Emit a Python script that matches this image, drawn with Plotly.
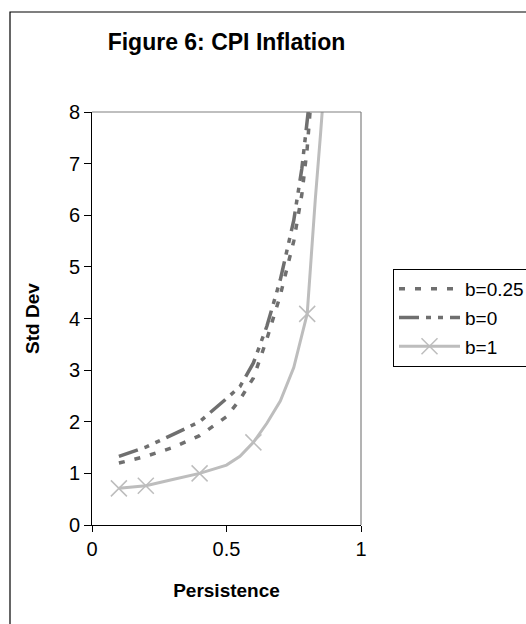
import plotly.graph_objects as go

# ---- data ----
persistence_b025 = [0.1, 0.2, 0.3, 0.4, 0.5, 0.55, 0.6, 0.65, 0.7, 0.75, 0.78, 0.8, 0.815]
std_b025 = [1.2, 1.33, 1.5, 1.73, 2.1, 2.43, 2.85, 3.6, 4.45, 5.5, 6.4, 7.3, 8.3]

persistence_b0 = [0.1, 0.2, 0.3, 0.4, 0.5, 0.55, 0.6, 0.65, 0.7, 0.75, 0.78, 0.8, 0.81]
std_b0 = [1.33, 1.51, 1.75, 2.0, 2.45, 2.68, 3.14, 3.85, 4.75, 5.9, 6.9, 7.8, 8.3]

persistence_b1 = [0.1, 0.2, 0.3, 0.4, 0.5, 0.55, 0.6, 0.65, 0.7, 0.75, 0.8, 0.81, 0.83, 0.85, 0.86]
std_b1 = [0.71, 0.76, 0.88, 1.0, 1.16, 1.33, 1.6, 1.97, 2.4, 3.05, 4.09, 4.9, 6.3, 7.6, 8.3]
b1_marked = [0.1, 0.2, 0.4, 0.6, 0.8]

series_names = ["b=0.25", "b=0", "b=1"]
x_ticks = [0, 0.5, 1]
x_tick_labels = ["0", "0.5", "1"]
y_ticks = [0, 1, 2, 3, 4, 5, 6, 7, 8]

FONT = "Liberation Sans, Arial, sans-serif"
DARK = "#6f6f6f"
LIGHT = "#bdbdbd"

fig = go.Figure()

fig.add_trace(go.Scatter(
    x=persistence_b025, y=std_b025, mode="lines", name=series_names[0],
    legendgroup="g1",
    line=dict(color=DARK, width=3.5, dash="6px,10px"),
))
fig.add_trace(go.Scatter(
    x=persistence_b0, y=std_b0, mode="lines", name=series_names[1],
    legendgroup="g2",
    line=dict(color=DARK, width=3.5, dash="20px,7px,5px,7px,5px,7px"),
))
fig.add_trace(go.Scatter(
    x=persistence_b1, y=std_b1, mode="lines", name=series_names[2],
    legendgroup="g3", showlegend=False,
    line=dict(color=LIGHT, width=3),
))
mx = [x for x in persistence_b1 if x in b1_marked]
my = [y for x, y in zip(persistence_b1, std_b1) if x in b1_marked]
fig.add_trace(go.Scatter(
    x=mx, y=my, mode="markers", name=series_names[2],
    legendgroup="g3", showlegend=False,
    marker=dict(symbol="x-thin", size=16, color=LIGHT,
                line=dict(color=LIGHT, width=1.5)),
))
fig.add_trace(go.Scatter(
    x=[None], y=[None], mode="lines+markers", name=series_names[2],
    legendgroup="g3",
    line=dict(color=LIGHT, width=3),
    marker=dict(symbol="x-thin", size=16, color=LIGHT,
                line=dict(color=LIGHT, width=1.5)),
))

# outer frame and plot-area border (top/right grey)
fig.add_shape(type="rect", xref="paper", yref="paper",
              x0=(10 - 92) / 269, x1=(540 - 92) / 269,
              y0=(525 - 640) / 413, y1=(525 - 12) / 413,
              line=dict(color="black", width=1.2), layer="below")
fig.add_shape(type="line", xref="paper", yref="paper", x0=0, x1=1, y0=1, y1=1,
              line=dict(color="#808080", width=1.2))
fig.add_shape(type="line", xref="paper", yref="paper", x0=1, x1=1, y0=0, y1=1,
              line=dict(color="#808080", width=1.2))

fig.update_layout(
    width=526, height=624,
    margin=dict(l=92, r=165, t=112, b=99, autoexpand=False),
    paper_bgcolor="white", plot_bgcolor="white",
    font=dict(family=FONT, size=19, color="black"),
    title=dict(text="Figure 6: CPI Inflation", x=(92 + 361) / 2 / 526, xanchor="center",
               y=1 - 42 / 624, yanchor="middle",
               font=dict(family=FONT, size=23, weight="bold", color="black")),
    showlegend=True,
    legend=dict(x=(393 - 92) / 269, y=(525 - 269) / 413, xanchor="left", yanchor="top",
                bordercolor="black", borderwidth=1, bgcolor="white",
                font=dict(family=FONT, size=19, color="black"),
                tracegroupgap=1, itemwidth=61),
)
fig.update_xaxes(
    range=[0, 1], tickvals=x_ticks, ticktext=x_tick_labels,
    showgrid=False, zeroline=False, showline=True, linecolor="black", linewidth=1,
    ticks="outside", ticklen=6, tickcolor="black", tickwidth=1,
    tickfont=dict(family=FONT, size=20),
    title=dict(text="Persistence", font=dict(family=FONT, size=19, weight="bold"), standoff=24),
)
fig.update_yaxes(
    range=[0, 8], tickvals=y_ticks,
    showgrid=False, zeroline=False, showline=True, linecolor="black", linewidth=1,
    ticks="outside", ticklen=7, tickcolor="black", tickwidth=1,
    tickfont=dict(family=FONT, size=20),
    title=dict(text="Std Dev", font=dict(family=FONT, size=19, weight="bold"), standoff=24),
)

fig.write_html("out.html")
